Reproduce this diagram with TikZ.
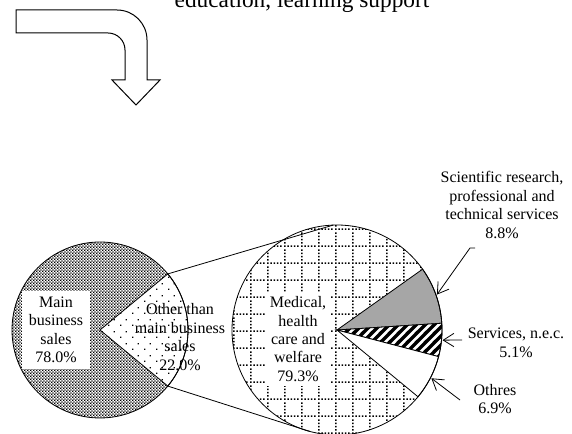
\documentclass[tikz,border=0pt]{standalone}
\usepackage{fontspec}
\setmainfont{Liberation Serif}
\usetikzlibrary{patterns.meta,arrows.meta,calc}

\tikzdeclarepattern{
  name=maincheck,
  bounding box={(0,0) and (2.4pt,2.4pt)},
  tile size={(2.4pt,2.4pt)},
  code={\fill (0,0) rectangle (1.3pt,1.3pt); \fill (1.2pt,1.2pt) rectangle (2.4pt,2.4pt);}
}
\tikzdeclarepattern{
  name=sparsedots,
  bounding box={(0,0) and (9pt,9pt)},
  tile size={(9pt,9pt)},
  code={\fill (0,0) rectangle (1.1pt,1.1pt); \fill (4.5pt,4.5pt) rectangle (5.6pt,5.6pt);}
}
\tikzdeclarepattern{
  name=medgrid,
  bounding box={(0,0) and (12.5pt,12.5pt)},
  tile size={(12.5pt,12.5pt)},
  code={
    \fill (0,0) rectangle (1.2pt,1.2pt); \fill (2.5pt,0) rectangle (3.7pt,1.2pt);
    \fill (5pt,0) rectangle (6.2pt,1.2pt); \fill (7.5pt,0) rectangle (8.7pt,1.2pt);
    \fill (10pt,0) rectangle (11.2pt,1.2pt);
    \fill (0,2.5pt) rectangle (1.2pt,3.7pt); \fill (0,5pt) rectangle (1.2pt,6.2pt);
    \fill (0,7.5pt) rectangle (1.2pt,8.7pt); \fill (0,10pt) rectangle (1.2pt,11.2pt);
  }
}
\tikzdeclarepattern{
  name=svcstripes,
  bounding box={(0,0) and (7pt,7pt)},
  tile size={(7pt,7pt)},
  code={
    \draw[line width=2.6pt] (-1pt,-1pt) -- (8pt,8pt);
    \draw[line width=2.6pt] (-1pt,6pt) -- (1pt,8pt);
    \draw[line width=2.6pt] (6pt,-1pt) -- (8pt,1pt);
  }
}

\tikzset{
  lbl/.style={align=center, inner sep=0.75pt, font=\fontsize{12}{13.8}\selectfont},
  lblbox/.style={lbl, fill=white, inner xsep=5pt, inner ysep=4.5pt},
  pieedge/.style={line width=0.6pt},
  callout/.style={line width=0.6pt, -{Straight Barb[length=8pt,width=10pt]}},
}

\begin{document}
\begin{tikzpicture}[x=0.75pt,y=0.75pt,yscale=-1,xscale=1]
\useasboundingbox (0,0) rectangle (572,434);

%Shape: Bent Arrow [id:bendarrow]
\draw[line width=0.75pt] (16,10) -- (117,10) .. controls (133.6,10) and (147,23.4) .. (147,40) -- (147,80) -- (160,80) -- (136,105) -- (112,80) -- (125,80) -- (125,50) .. controls (125,40.6) and (117.4,33) .. (108,33) -- (16,33) -- cycle ;

% Pie centres
\coordinate (lp) at (100,330);
\coordinate (rp) at (337,330);

%Shape: Pie [id:mainsales]
\path[fill=white, postaction={pattern=maincheck}] (lp) circle[radius=88] ;
%Shape: Pie slice [id:othersales]
\draw[pieedge, preaction={fill=white}, pattern=sparsedots] (lp) -- ++(-39.6:88) coordinate (lTop) arc[start angle=-39.6, end angle=39.6, radius=88] coordinate (lBot) -- cycle ;
\draw[pieedge] (lp) circle[radius=88] ;

%Shape: Pie [id:medical]
\path[fill=white, postaction={pattern=medgrid}] (rp) circle[radius=105] ;
%Shape: Pie slice [id:scientific]
\draw[pieedge, fill=black!35] (rp) -- ++(-35.4:105) arc[start angle=-35.4, end angle=-3.7, radius=105] -- cycle ;
%Shape: Pie slice [id:services]
\draw[pieedge, preaction={fill=white}, pattern=svcstripes] (rp) -- ++(-3.7:105) arc[start angle=-3.7, end angle=14.7, radius=105] -- cycle ;
%Shape: Pie slice [id:othres]
\draw[pieedge, fill=white] (rp) -- ++(14.7:105) arc[start angle=14.7, end angle=39.5, radius=105] -- cycle ;
\draw[pieedge] (rp) circle[radius=105] ;

% Points on the second pie
\coordinate (rTop) at ($(rp)+(-92:105)$);
\coordinate (rBot) at ($(rp)+(105:105)$);
\coordinate (sciTip) at ($(rp)+(-19.5:106)$);
\coordinate (svcTip) at ($(rp)+(5.5:106)$);
\coordinate (othTip) at ($(rp)+(27.1:106)$);

%Straight Lines [id:linktop]
\draw[pieedge] (lTop) -- (rTop) ;
%Straight Lines [id:linkbot]
\draw[pieedge] (lBot) -- (rBot) ;

% Text Node
\draw (302,8) node [anchor=base, font=\fontsize{17.5}{21}\selectfont] (topic) {education, learning support};
% Text Node
\draw (56,330) node [lblbox] (mainlbl) {Main\\business\\sales\\78.0\%};
% Text Node
\draw (180,337) node [lbl] (otherlbl) {Other than\\main business\\sales\\22.0\%};
% Text Node
\draw (298,339) node [lblbox, inner xsep=2.5pt, inner ysep=3.5pt] (medlbl) {Medical,\\health\\care and\\welfare\\79.3\%};
% Text Node
\draw (502,205) node [lbl] (scilbl) {Scientific research,\\professional and\\technical services\\8.8\%};
% Text Node
\draw (516,343) node [lbl] (svclbl) {Services, n.e.c.\\5.1\%};
% Text Node
\draw (495,399) node [lbl] (othlbl) {Othres\\6.9\%};

% Callout feet
\coordinate (sciFoot) at (475,248);
\coordinate (sciKnee) at (470,248);
\coordinate (svcFoot) at (462,340);
\coordinate (othFoot) at (460,400);

%Straight Lines [id:callsci]
\draw[callout] (sciFoot) -- (sciKnee) -- (sciTip) ;
%Straight Lines [id:callsvc]
\draw[callout] (svcFoot) -- (svcTip) ;
%Straight Lines [id:calloth]
\draw[callout] (othFoot) -- (othTip) ;

\end{tikzpicture}
\end{document}
